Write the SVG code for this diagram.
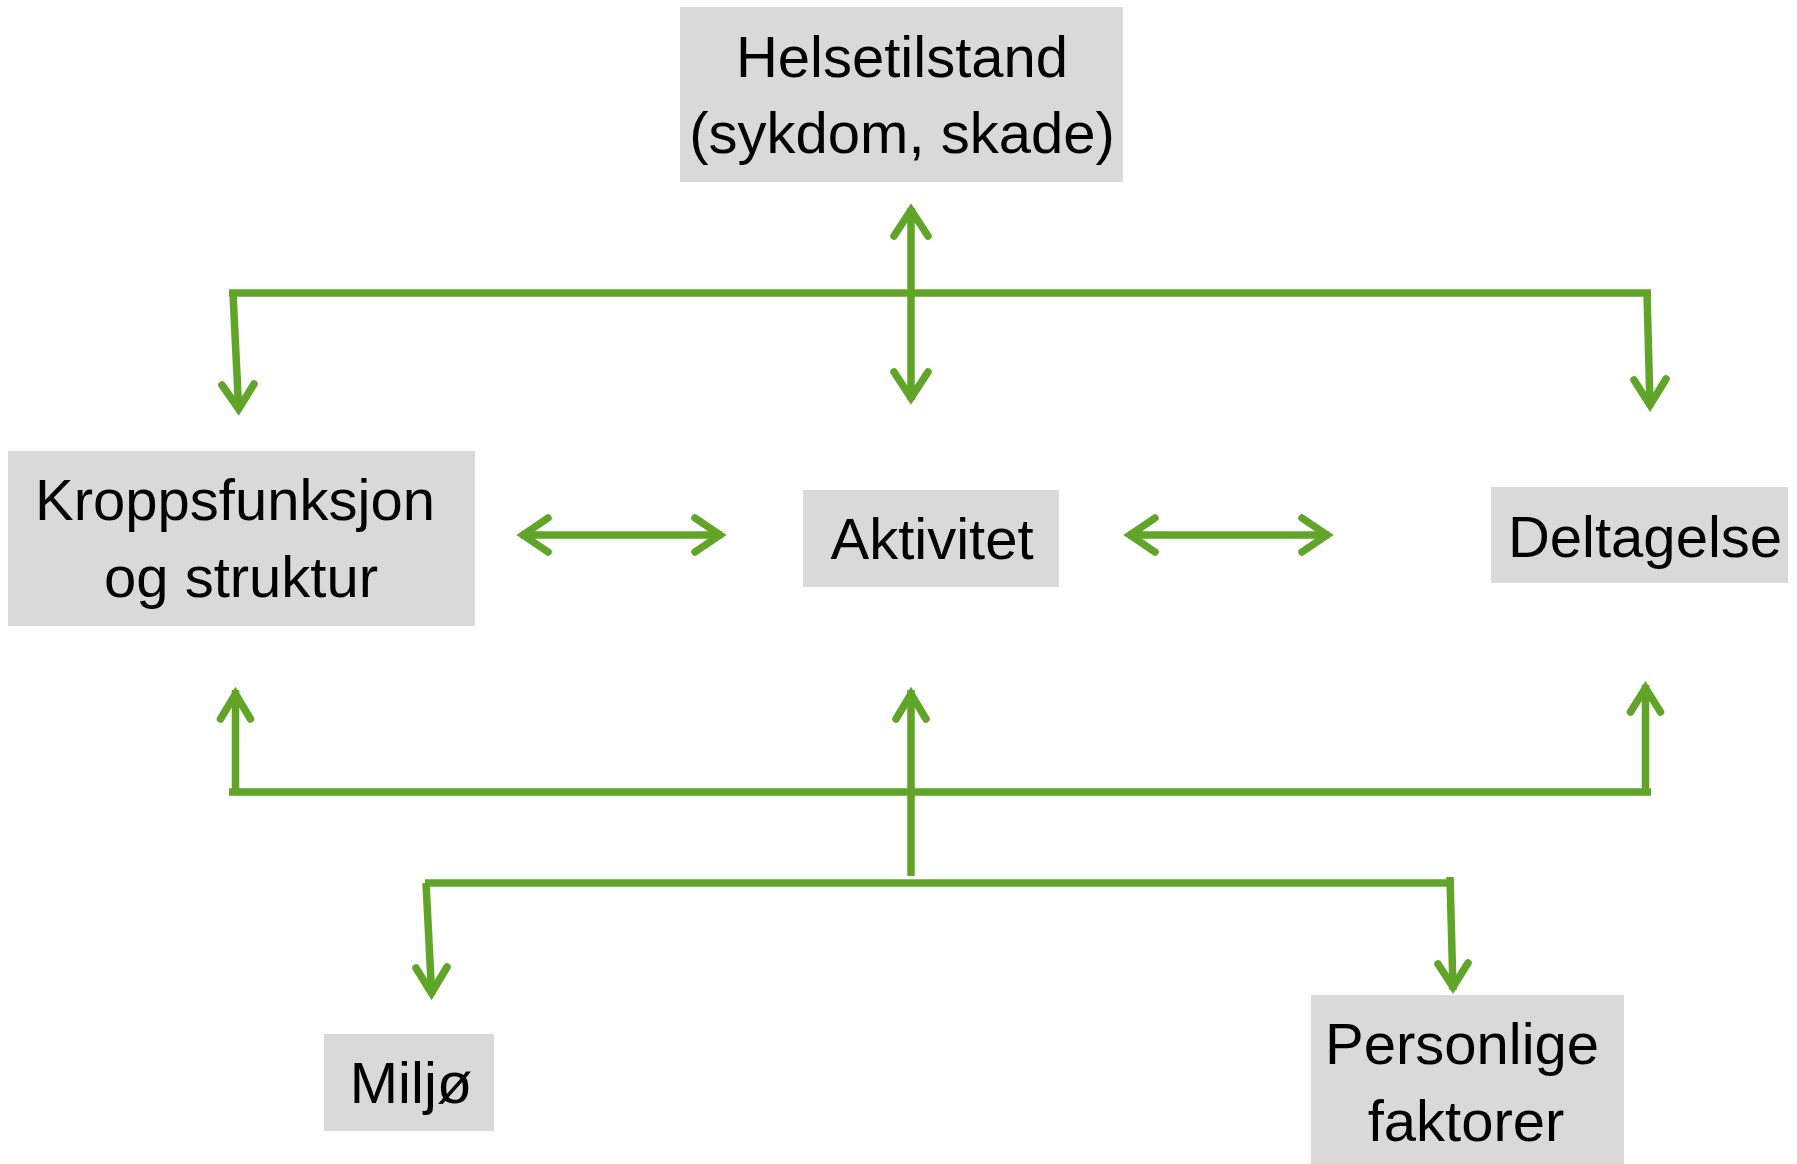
<svg xmlns="http://www.w3.org/2000/svg" width="1797" height="1164" viewBox="0 0 1797 1164">
  <style>
    .box { fill: #d9d9d9; }
    .lbl { font-family: "Liberation Sans", Arial, sans-serif; font-size: 58px; fill: #000; text-anchor: middle; }
    .ln { fill: none; stroke: #60a428; stroke-width: 7.5; stroke-linecap: butt; }
    .hd { fill: none; stroke: #60a428; stroke-width: 7.5; stroke-linecap: round; stroke-linejoin: miter; stroke-miterlimit: 6; }
  </style>
  <rect width="1797" height="1164" fill="#ffffff"/>

  <!-- nodes -->
  <g id="helsetilstand">
    <rect class="box" x="680" y="7" width="443" height="175"/>
    <text class="lbl" x="902" y="77">Helsetilstand</text>
    <text class="lbl" x="902" y="153">(sykdom, skade)</text>
  </g>
  <g id="kroppsfunksjon">
    <rect class="box" x="8" y="451" width="467" height="175"/>
    <text class="lbl" x="235" y="520">Kroppsfunksjon</text>
    <text class="lbl" x="241" y="597">og struktur</text>
  </g>
  <g id="aktivitet">
    <rect class="box" x="803" y="490" width="256" height="97"/>
    <text class="lbl" x="932" y="559">Aktivitet</text>
  </g>
  <g id="deltagelse">
    <rect class="box" x="1491" y="487" width="297" height="96"/>
    <text class="lbl" x="1645" y="557">Deltagelse</text>
  </g>
  <g id="miljo">
    <rect class="box" x="324" y="1034" width="170" height="97"/>
    <text class="lbl" x="411" y="1103">Miljø</text>
  </g>
  <g id="personlige">
    <rect class="box" x="1311" y="995" width="313" height="169"/>
    <text class="lbl" x="1462" y="1064">Personlige</text>
    <text class="lbl" x="1466" y="1141">faktorer</text>
  </g>

  <!-- connectors -->
  <g id="connectors">
    <!-- upper bar from Helsetilstand -->
    <path class="ln" d="M229 293 H1651"/>
    <path class="ln" d="M911 208 V400"/>
    <path class="hd" d="M894 236 L911 210 L928 236"/>
    <path class="hd" d="M894 372 L911 398 L928 372"/>
    <path class="ln" d="M233 293 L238.7 410"/>
    <path class="hd" d="M222 385 L238.6 409 L254 384"/>
    <path class="ln" d="M1647 293 L1650 406"/>
    <path class="hd" d="M1634 380 L1650 405 L1666 379"/>

    <!-- horizontal double arrows -->
    <path class="ln" d="M521 535 H722"/>
    <path class="hd" d="M548 518 L523 535 L548 552"/>
    <path class="hd" d="M695 518 L720 535 L695 552"/>
    <path class="ln" d="M1128 535 H1329"/>
    <path class="hd" d="M1155 518 L1130 535 L1155 552"/>
    <path class="hd" d="M1302 518 L1327 535 L1302 552"/>

    <!-- lower bar to the three components -->
    <path class="ln" d="M229 792 H1651"/>
    <path class="ln" d="M235.5 792 V690"/>
    <path class="hd" d="M220.5 719 L235.5 694 L250.5 719"/>
    <path class="ln" d="M911 876 V690"/>
    <path class="hd" d="M896 719 L911 694 L926 719"/>
    <path class="ln" d="M1645.5 792 V685"/>
    <path class="hd" d="M1630.5 712 L1645.5 688 L1660.5 712"/>

    <!-- contextual factors bar -->
    <path class="ln" d="M425 883 H1454"/>
    <path class="ln" d="M426 883 L431.7 995"/>
    <path class="hd" d="M416 968 L431.5 993 L447 967"/>
    <path class="ln" d="M1450 877 L1453 990"/>
    <path class="hd" d="M1438 964 L1453 987 L1468 963"/>
  </g>
</svg>
